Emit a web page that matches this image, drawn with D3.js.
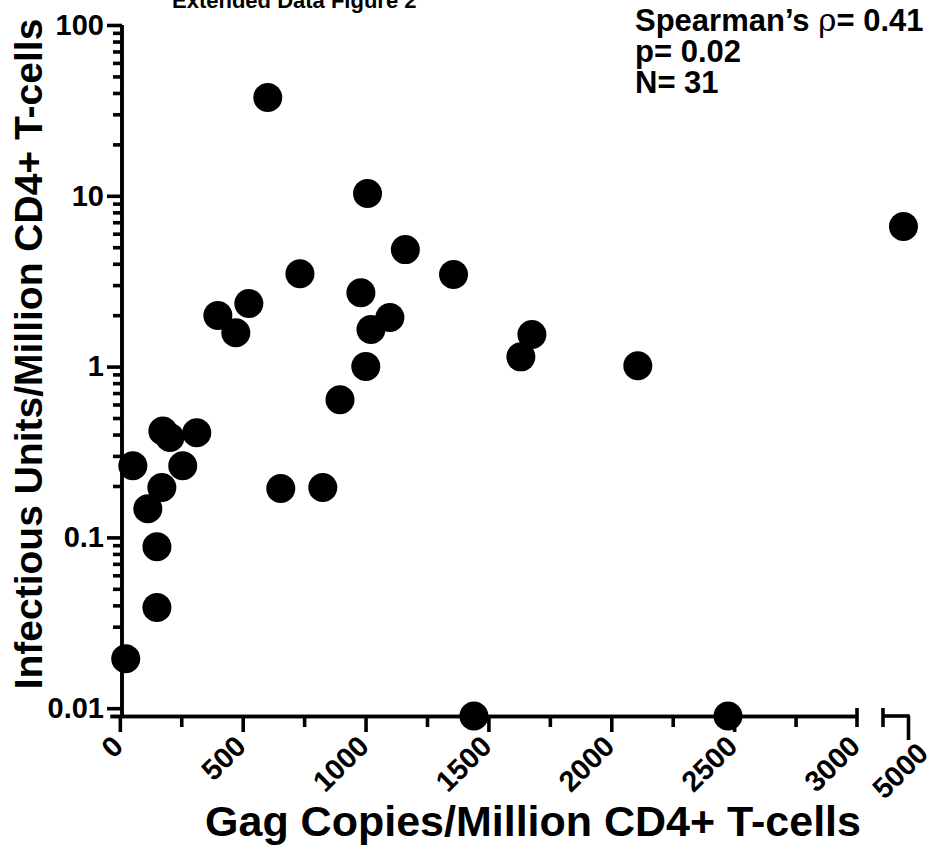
<!DOCTYPE html>
<html>
<head>
<meta charset="utf-8">
<script src="https://cdn.jsdelivr.net/npm/d3@7"></script>
<style>
  html, body { margin: 0; padding: 0; background: #fff; }
  svg { display: block; font-family: "Liberation Sans", Arial, Helvetica, sans-serif; }
</style>
</head>
<body>
<svg id="chart" width="933" height="851"></svg>
<script>
// ---------------- data ----------------
const gagCopies = [602, 1008, 1162, 733, 1358, 525, 399, 472, 981, 1099, 1022, 1677, 1632, 2108, 1001,
                   896, 53, 175, 204, 313, 256, 171, 114, 151, 151, 24, 655, 826, 1441, 2475, 4980];
const infectiousUnits = [37.6, 10.3, 4.84, 3.5, 3.46, 2.34, 1.99, 1.58, 2.71, 1.94, 1.65, 1.54, 1.14, 1.01, 1.0,
                   0.64, 0.263, 0.42, 0.384, 0.41, 0.263, 0.196, 0.147, 0.088, 0.0388, 0.0195, 0.193, 0.196, 0.009, 0.009, 6.6];
const xMajorTicks = [0, 500, 1000, 1500, 2000, 2500, 3000];
const xMinorTicks = [250, 750, 1250, 1750, 2250, 2750];
const xBreakTicks = [5000];
const yMajorTicks = [0.01, 0.1, 1, 10, 100];
const yTickLabels = ["0.01", "0.1", "1", "10", "100"];
const annotationLines = ["Spearman\u2019s ", "p= 0.02", "N= 31"];
const titleText = "Extended Data Figure 2";
const xTitle = "Gag Copies/Million CD4+ T-cells";
const yTitle = "Infectious Units/Million CD4+ T-cells";

// ---------------- layout ----------------
const svg = d3.select("#chart");
const axisY0 = 716, axisX0 = 122;
const x1 = d3.scaleLinear().domain([-40, 3000]).range([110, 857]);
const x2 = d3.scaleLinear().domain([4890, 5000]).range([883, 908]);
const y = d3.scaleLog().domain([0.009, 100]).range([716, 25]);
const xPos = v => v > 3000 ? x2(v) : x1(v);

const SW = 3.6;
const tickFont = 29;

// y minor ticks
const yMinor = [];
for (let e = -2; e < 2; e++) for (let m = 2; m <= 9; m++) yMinor.push(m * Math.pow(10, e));

const gy = svg.append("g").attr("transform", `translate(${axisX0},0)`);
gy.call(d3.axisLeft(y).tickValues(yMinor).tickSize(9).tickSizeOuter(0).tickFormat(""));
gy.append("g").call(d3.axisLeft(y).tickValues(yMajorTicks).tickSize(15).tickSizeOuter(0).tickPadding(3)
  .tickFormat((d, i) => yTickLabels[i]));
gy.selectAll("path.domain").attr("stroke", "#000").attr("stroke-width", SW);
gy.selectAll(".tick line").attr("stroke", "#000").attr("stroke-width", SW);
gy.selectAll(".tick text").attr("font-size", tickFont).attr("font-weight", "bold").attr("fill", "#000")
  .attr("font-family", "'Liberation Sans', Arial, sans-serif");
gy.selectAll("path.domain").attr("d", `M0,${y.range()[1]}V${axisY0 + SW/2}`);

// x axis segment 1
const gx = svg.append("g").attr("transform", `translate(0,${axisY0})`);
gx.call(d3.axisBottom(x1).tickValues(xMinorTicks).tickSize(11).tickSizeOuter(0).tickFormat(""));
gx.append("g").call(d3.axisBottom(x1).tickValues(xMajorTicks.slice(0, -1)).tickSize(16).tickSizeOuter(0).tickFormat(d => d));
// segment 2
const gx2 = svg.append("g").attr("transform", `translate(0,${axisY0})`);
gx2.call(d3.axisBottom(x2).tickValues(xBreakTicks).tickSize(24).tickSizeOuter(0).tickFormat(d => d));

[gx, gx2].forEach(g => {
  g.selectAll("path.domain").attr("stroke", "#000").attr("stroke-width", SW);
  g.selectAll(".tick line").attr("stroke", "#000").attr("stroke-width", SW);
});
gx2.select("path.domain").attr("d", `M${x2.range()[0]},0H${x2.range()[1] + SW/2}`);

// break bars
svg.append("g").selectAll("line").data([x1(3000), x2(4890)]).join("line")
  .attr("x1", d => d).attr("x2", d => d).attr("y1", axisY0 - 8).attr("y2", axisY0 + 11)
  .attr("stroke", "#000").attr("stroke-width", SW);

// rotated x tick labels
const xLabels = xMajorTicks.map(v => ({v, px: x1(v) + 5, py: axisY0 + 32}))
  .concat(xBreakTicks.map(v => ({v, px: x2(v) + 22, py: axisY0 + 39})));
gx.selectAll(".tick text").remove();
gx2.selectAll(".tick text").remove();
svg.append("g").selectAll("text").data(xLabels).join("text")
  .attr("transform", d => `translate(${d.px},${d.py}) rotate(-45)`)
  .attr("text-anchor", "end")
  .attr("font-size", tickFont).attr("font-weight", "bold").attr("fill", "#000")
  .text(d => d.v);

// points
svg.append("g").selectAll("circle").data(gagCopies).join("circle")
  .attr("cx", (d) => xPos(d))
  .attr("cy", (d, i) => y(infectiousUnits[i]))
  .attr("r", 14.5)
  .attr("fill", "#000");

// axis titles
svg.append("text").attr("x", 533).attr("y", 836).attr("text-anchor", "middle")
  .attr("font-size", 43).attr("font-weight", "bold").text(xTitle);
svg.append("text").attr("transform", "translate(42,354) rotate(-90)").attr("text-anchor", "middle")
  .attr("font-size", 39).attr("font-weight", "bold").text(yTitle);

// title (cut at top, as in the reference)
svg.append("text").attr("x", 172).attr("y", 8).attr("font-size", 22).attr("font-weight", "bold").text(titleText);

// annotation
const ann = svg.append("g").attr("font-size", 31).attr("font-weight", "bold");
const t0 = ann.append("text").attr("x", 635).attr("y", 31);
t0.append("tspan").text(annotationLines[0]);
t0.append("tspan").attr("font-weight", "normal").attr("font-family", "'DejaVu Serif', serif").text("\u03C1");
t0.append("tspan").text("= 0.41");
ann.append("text").attr("x", 635).attr("y", 62).text(annotationLines[1]);
ann.append("text").attr("x", 635).attr("y", 93).text(annotationLines[2]);
</script>
</body>
</html>
